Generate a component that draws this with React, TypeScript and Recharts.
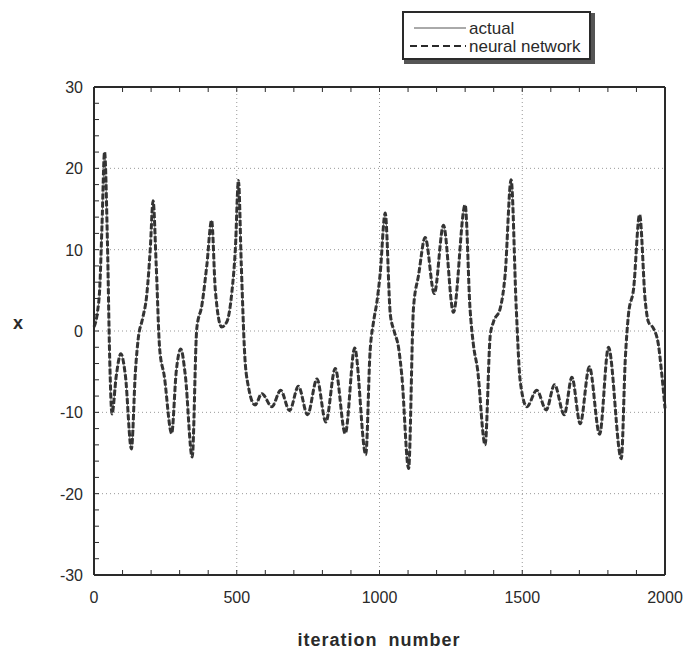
import { LineChart, Line, XAxis, YAxis, ReferenceLine } from "recharts";

// key points (iteration number -> x)
const iterations = [
  0, 12, 20, 28, 37, 47, 55, 63, 78, 94, 110, 131, 145, 155, 170, 185, 197, 207, 218, 230,
  246, 272, 288, 304, 320, 344, 360, 378, 395, 412, 425, 447, 465, 483, 495, 506, 516, 528, 540, 564,
  588, 623, 654, 685, 716, 748, 781, 812, 845, 880, 913, 952, 967, 979, 991, 1002, 1020, 1038, 1052, 1067,
  1078, 1102, 1119, 1137, 1160, 1192, 1224, 1259, 1300, 1317, 1329, 1343, 1370, 1388, 1399, 1423, 1440, 1461, 1479, 1493,
  1516, 1551, 1584, 1613, 1647, 1674, 1703, 1735, 1771, 1802, 1847, 1861, 1872, 1890, 1911, 1931, 1942, 1960, 1977, 1989,
  2000,
];
const actual = [
  0.5, 2.3, 5.2, 13, 22, 11, -3.4, -10.2, -5.5, -2.8, -5.5, -14.5, -5, -0.9, 1.5, 4.5, 10, 16, 8, -2.2,
  -5.5, -12.6, -5, -2.2, -5.5, -15.5, 0.3, 3.2, 8, 13.6, 5, 0.5, 1.1, 4.8, 10, 18.5, 8, -3, -6.7, -9.1,
  -7.7, -9.3, -7.3, -9.8, -6.8, -10.3, -5.9, -11.2, -4.6, -12.6, -2.1, -15.2, -2.5, 1.1, 3.6, 6.9, 14.5, 2.0, -0.1, -2.1,
  -5.4, -16.9, 2.8, 6.9, 11.5, 4.6, 13.0, 2.3, 15.5, 2.8, -1.7, -4.6, -14.0, -0.5, 1.1, 2.8, 6.9, 18.6, 2.8, -6.2,
  -9.3, -7.3, -9.7, -6.6, -10.3, -5.7, -11.4, -4.4, -12.7, -2.0, -15.7, -3.4, 2.0, 5.2, 14.3, 3.6, 1.1, 0.3, -1.7, -5.4,
  -9.5,
];
// network output is indistinguishable from the actual trace at this scale
const network = [...actual];

const xTicks = Array.from({ length: 21 }, (_, i) => i * 100);
const yTicks = Array.from({ length: 31 }, (_, i) => -30 + i * 2);
const xGrid = [500, 1000, 1500];
const yGrid = [-20, -10, 0, 10, 20];

const data = iterations.map((it, i) => ({ it, actual: actual[i], network: network[i] }));

const FONT = "'Liberation Sans', Arial, Helvetica, sans-serif";
const INK = "#2a2a2a";
const TICK = 5;

function BottomTick({ x, y, payload }: any) {
  const major = payload.value % 500 === 0;
  return (
    <g>
      <line x1={x} x2={x} y1={y} y2={y - TICK} stroke={INK} />
      {major && (
        <text x={x} y={y + 28} textAnchor="middle" fontSize={16} fontFamily={FONT} fill={INK}>
          {payload.value}
        </text>
      )}
    </g>
  );
}

function TopTick({ x, y }: any) {
  return <line x1={x} x2={x} y1={y} y2={y + TICK} stroke={INK} />;
}

function LeftTick({ x, y, payload }: any) {
  const major = payload.value % 10 === 0;
  return (
    <g>
      <line x1={x} x2={x + TICK} y1={y} y2={y} stroke={INK} />
      {major && (
        <text x={x - 11} y={y + 6} textAnchor="end" fontSize={16} fontFamily={FONT} fill={INK}>
          {payload.value}
        </text>
      )}
    </g>
  );
}

function RightTick({ x, y }: any) {
  return <line x1={x} x2={x - TICK} y1={y} y2={y} stroke={INK} />;
}

function LegendBox() {
  return (
    <div
      style={{
        position: "absolute", left: 402, top: 11, width: 185, height: 45,
        border: `2px solid ${INK}`, background: "#fff", boxShadow: "3px 3px 0 1px #555",
      }}
    >
      <svg width={185} height={45} style={{ position: "absolute", left: 0, top: 0 }}>
        <line x1={10} x2={62} y1={15} y2={15} stroke="#555" strokeWidth={1} />
        <line x1={6} x2={62} y1={33} y2={33} stroke={INK} strokeWidth={2} strokeDasharray="7 4" />
        <text x={65} y={21} fontSize={17} fontFamily={FONT} fill={INK}>actual</text>
        <text x={65} y={39} fontSize={17} fontFamily={FONT} fill={INK}>neural network</text>
      </svg>
    </div>
  );
}

export default function App() {
  return (
    <div style={{ position: "absolute", left: 0, top: 0, width: 683, height: 655, background: "#fff" }}>
      <LineChart width={683} height={655} data={data} margin={{ top: 77, right: 8, bottom: 50, left: 34 }}>
        <XAxis
          dataKey="it" type="number" domain={[0, 2000]} ticks={xTicks} interval={0}
          height={30} tickSize={0} tickMargin={0} tickLine={false} tick={<BottomTick />}
          axisLine={{ stroke: INK, strokeWidth: 2 }}
        />
        <XAxis
          xAxisId="top" orientation="top" dataKey="it" type="number" domain={[0, 2000]} ticks={xTicks} interval={0}
          height={10} tickSize={0} tickMargin={0} tickLine={false} tick={<TopTick />}
          axisLine={{ stroke: INK, strokeWidth: 2 }}
        />
        <YAxis
          type="number" domain={[-30, 30]} ticks={yTicks} interval={0}
          width={60} tickSize={0} tickMargin={0} tickLine={false} tick={<LeftTick />}
          axisLine={{ stroke: INK, strokeWidth: 2 }}
        />
        <YAxis
          yAxisId="right" orientation="right" type="number" domain={[-30, 30]} ticks={yTicks} interval={0}
          width={10} tickSize={0} tickMargin={0} tickLine={false} tick={<RightTick />}
          axisLine={{ stroke: INK, strokeWidth: 2 }}
        />
        {xGrid.map((v) => (
          <ReferenceLine key={`gx${v}`} x={v} stroke="#999" strokeDasharray="1 3" />
        ))}
        {yGrid.map((v) => (
          <ReferenceLine key={`gy${v}`} y={v} stroke="#999" strokeDasharray="1 3" />
        ))}
        <Line
          type="monotone" dataKey="actual" stroke="#777" strokeWidth={1}
          dot={false} isAnimationActive={false}
        />
        <Line
          type="monotone" dataKey="network" stroke="#333" strokeWidth={3} strokeDasharray="6 2"
          dot={false} isAnimationActive={false}
        />
      </LineChart>
      <LegendBox />
      <div
        style={{
          position: "absolute", left: 13, top: 314, lineHeight: "18px",
          fontFamily: FONT, fontWeight: "bold", fontSize: 18, color: INK,
        }}
      >
        x
      </div>
      <div
        style={{
          position: "absolute", left: 279, width: 200, top: 631, lineHeight: "18px", textAlign: "center",
          fontFamily: FONT, fontWeight: "bold", fontSize: 18, letterSpacing: 1, wordSpacing: 5, color: INK,
        }}
      >
        iteration number
      </div>
    </div>
  );
}
